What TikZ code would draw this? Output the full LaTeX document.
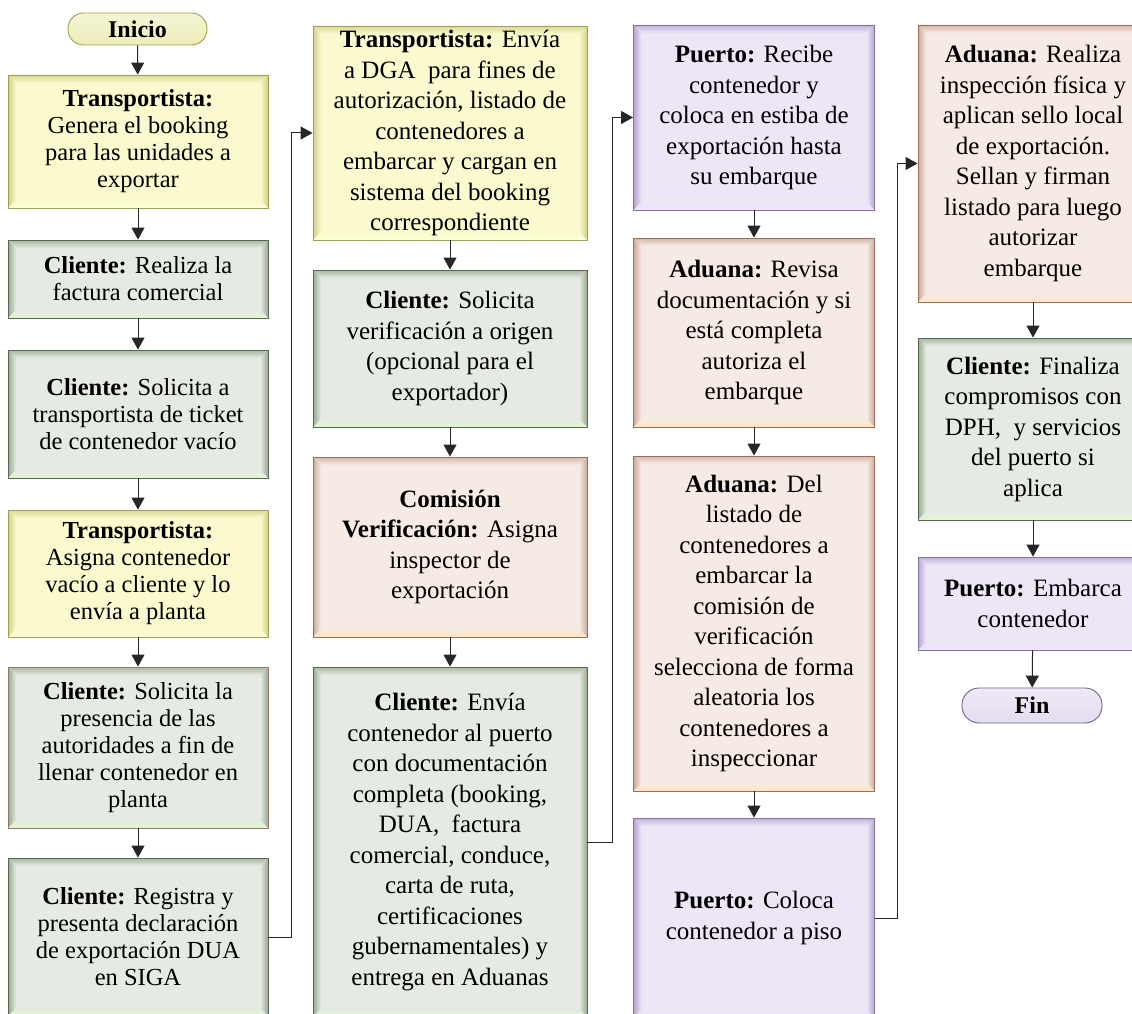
\documentclass[tikz,border=0pt]{standalone}
\usepackage{fontspec}
\setmainfont{Liberation Serif}
\usetikzlibrary{arrows.meta,calc}

% colour schemes: fill, outline, bevel edge, bottom highlight
\definecolor{ylwFill}{RGB}{250,250,206}
\definecolor{ylwLine}{RGB}{160,160,90}
\definecolor{ylwEdge}{RGB}{208,208,135}
\definecolor{ylwHi}{RGB}{255,255,214}
\definecolor{grnFill}{RGB}{229,234,226}
\definecolor{grnLine}{RGB}{88,104,82}
\definecolor{grnEdge}{RGB}{152,170,145}
\definecolor{grnHi}{RGB}{222,248,206}
\definecolor{pchFill}{RGB}{246,235,228}
\definecolor{pchLine}{RGB}{150,112,92}
\definecolor{pchEdge}{RGB}{204,170,152}
\definecolor{pchHi}{RGB}{255,228,190}
\definecolor{lavFill}{RGB}{236,230,245}
\definecolor{lavLine}{RGB}{132,116,160}
\definecolor{lavEdge}{RGB}{182,164,208}
\definecolor{lavHi}{RGB}{240,224,255}
\definecolor{brnLine}{RGB}{146,120,104}

\tikzset{
  bevelled/.style n args={3}{path picture={
    \coordinate (qsw) at (path picture bounding box.south west);
    \coordinate (qne) at (path picture bounding box.north east);
    \coordinate (qnw) at (path picture bounding box.north west);
    \coordinate (qse) at (path picture bounding box.south east);
    \shade[left color=#1,right color=#2] (qsw) -- (qnw) -- ($(qnw)+(8pt,-8pt)$) -- ($(qsw)+(8pt,8pt)$) -- cycle;
    \shade[left color=#2,right color=#1] (qse) -- (qne) -- ($(qne)+(-8pt,-8pt)$) -- ($(qse)+(-8pt,8pt)$) -- cycle;
    \shade[top color=#1!80!#2,bottom color=#2] (qnw) -- (qne) -- ($(qne)+(-8pt,-8pt)$) -- ($(qnw)+(8pt,-8pt)$) -- cycle;
    \shade[top color=#2,bottom color=#3] (qsw) -- (qse) -- ($(qse)+(-8pt,8pt)$) -- ($(qsw)+(8pt,8pt)$) -- cycle;
  }},
  box/.style 2 args={rectangle, inner sep=0pt, align=center, text=black,
    line width=0.9pt, minimum width=#1pt, minimum height=#2pt},
  narrowtxt/.style={font=\fontsize{24.5}{27}\selectfont},
  widetxt/.style={font=\fontsize{25}{30.5}\selectfont},
  ylw/.style={fill=ylwFill, draw=ylwLine, bevelled={ylwEdge}{ylwFill}{ylwHi}},
  grn/.style={fill=grnFill, draw=grnLine, bevelled={grnEdge}{grnFill}{grnHi}},
  pch/.style={fill=pchFill, draw=pchLine, bevelled={pchEdge}{pchFill}{pchHi}},
  lav/.style={fill=lavFill, draw=lavLine, bevelled={lavEdge}{lavFill}{lavHi}},
  pill/.style 2 args={rectangle, rounded corners=15.5pt, minimum width=139pt,
    minimum height=32pt, inner sep=0pt, line width=0.9pt,
    top color=#1!60!white, bottom color=#1, middle color=#1!80!white, draw=#2,
    font=\fontsize{24}{28}\selectfont\bfseries},
  arr/.style={draw=black!85, line width=1pt, -{Triangle[length=12pt,width=13pt]}}
}

\begin{document}
\begin{tikzpicture}[x=1pt,y=-1pt]
\useasboundingbox (0,0) rectangle (1132,1014);
\clip (0,0) rectangle (1132,1014);
\fill[white] (0,0) rectangle (1132,1014);

% first column
\node[pill={ylwFill!70!ylwEdge}{ylwLine}] (ini) at (137.5,29) {Inicio};
\node[box={260}{133}, narrowtxt, ylw] (b1) at (138,141.5)
  {\textbf{Transportista:}\\Genera el booking\\para las unidades a\\exportar};
\node[box={260}{78}, narrowtxt, grn] (b2) at (138,279)
  {\textbf{Cliente:} Realiza la\\factura comercial};
\node[box={260}{128}, narrowtxt, grn] (b3) at (138,414)
  {\textbf{Cliente:} Solicita a\\transportista de ticket\\de contenedor vacío};
\node[box={260}{127}, narrowtxt, ylw] (b4) at (138,573.5)
  {\textbf{Transportista:}\\Asigna contenedor\\vacío a cliente y lo\\envía a planta};
\node[box={260}{161}, narrowtxt, grn, draw=brnLine] (b5) at (138,747.5)
  {\textbf{Cliente:} Solicita la\\presencia de las\\autoridades a fin de\\llenar contenedor en\\planta};
\node[box={260}{158}, narrowtxt, grn] (b6) at (138,937)
  {\textbf{Cliente:} Registra y\\presenta declaración\\de exportación DUA\\en SIGA};

% second column
\node[box={274}{214}, widetxt, ylw] (c1) at (450,133)
  {\textbf{Transportista:} Envía\\a DGA\ \ para fines de\\autorización, listado de\\contenedores a\\embarcar y cargan en\\sistema del booking\\correspondiente};
\node[box={274}{157}, widetxt, grn] (c2) at (450,348.5)
  {\textbf{Cliente:} Solicita\\verificación a origen\\(opcional para el\\exportador)};
\node[box={274}{180}, widetxt, pch] (c3) at (450,547)
  {\textbf{Comisión}\\\textbf{Verificación:} Asigna\\inspector de\\exportación};
\node[box={274}{350}, widetxt, grn] (c4) at (450,842)
  {\textbf{Cliente:} Envía\\contenedor al puerto\\con documentación\\completa (booking,\\DUA,\ \ factura\\comercial, conduce,\\carta de ruta,\\certificaciones\\gubernamentales) y\\entrega en Aduanas};

% third column
\node[box={241}{185}, widetxt, lav] (d1) at (754,117.5)
  {\textbf{Puerto:} Recibe\\contenedor y\\coloca en estiba de\\exportación hasta\\su embarque};
\node[box={241}{189}, widetxt, pch] (d2) at (754,332.5)
  {\textbf{Aduana:} Revisa\\documentación y si\\está completa\\autoriza el\\embarque};
\node[box={241}{335}, widetxt, pch] (d3) at (754,623.5)
  {\textbf{Aduana:} Del\\listado de\\contenedores a\\embarcar la\\comisión de\\verificación\\selecciona de forma\\aleatoria los\\contenedores a\\inspeccionar};
\node[box={241}{200}, widetxt, lav] (d4) at (754,918)
  {\textbf{Puerto:} Coloca\\contenedor a piso};

% fourth column
\node[box={230}{277}, widetxt, pch] (e1) at (1033,163.5)
  {\textbf{Aduana:} Realiza\\inspección física y\\aplican sello local\\de exportación.\\Sellan y firman\\listado para luego\\autorizar\\embarque};
\node[box={230}{182}, widetxt, grn] (e2) at (1033,429)
  {\textbf{Cliente:} Finaliza\\compromisos con\\DPH,\ \ y servicios\\del puerto si\\aplica};
\node[box={230}{93}, widetxt, lav] (e3) at (1033,603.5)
  {\textbf{Puerto:} Embarca\\contenedor};
\node[pill={lavFill!85!lavEdge}{lavLine!85!black}, minimum width=140pt, minimum height=35pt, rounded corners=17pt] (fin) at (1032,705.5) {Fin};

% connectors inside the columns
\draw[arr] (ini) -- (b1);
\draw[arr] (b1) -- (b2);
\draw[arr] (b2) -- (b3);
\draw[arr] (b3) -- (b4);
\draw[arr] (b4) -- (b5);
\draw[arr] (b5) -- (b6);
\draw[arr] (c1) -- (c2);
\draw[arr] (c2) -- (c3);
\draw[arr] (c3) -- (c4);
\draw[arr] (d1) -- (d2);
\draw[arr] (d2) -- (d3);
\draw[arr] (d3) -- (d4);
\draw[arr] (e1) -- (e2);
\draw[arr] (e2) -- (e3);
\draw[arr] (e3) -- (fin);

% connectors from one column to the next
\draw[arr] (b6.east) -- ++(23,0) |- (c1.west);
\draw[arr] (c4.east) -- ++(25,0) |- (d1.west);
\draw[arr] (d4.east) -- ++(23,0) |- (e1.west);
\end{tikzpicture}
\end{document}
